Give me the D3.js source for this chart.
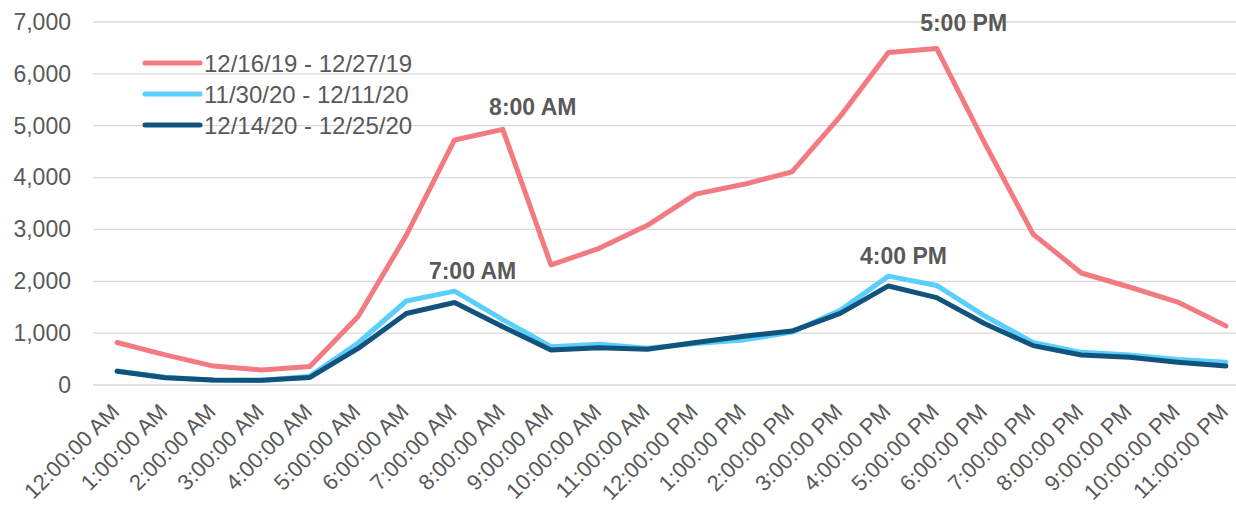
<!DOCTYPE html>
<html>
<head>
<meta charset="utf-8">
<script src="https://cdn.jsdelivr.net/npm/d3@7"></script>
<style>
    body { margin: 0; background: white; }
    text { font-family: "Liberation Sans", Arial, sans-serif; }
</style>
</head>
<body>
<script>
// hour categories
const hours = ["12:00:00 AM","1:00:00 AM","2:00:00 AM","3:00:00 AM","4:00:00 AM","5:00:00 AM",
    "6:00:00 AM","7:00:00 AM","8:00:00 AM","9:00:00 AM","10:00:00 AM","11:00:00 AM",
    "12:00:00 PM","1:00:00 PM","2:00:00 PM","3:00:00 PM","4:00:00 PM","5:00:00 PM",
    "6:00:00 PM","7:00:00 PM","8:00:00 PM","9:00:00 PM","10:00:00 PM","11:00:00 PM"];

const seriesNames = ["12/16/19 - 12/27/19", "11/30/20 - 12/11/20", "12/14/20 - 12/25/20"];
const seriesColors = ["#F47A82", "#5ACFFB", "#12537E"];

const values2019 = [820, 580, 365, 290, 355, 1320, 2890, 4725, 4930, 2315, 2635, 3080,
    3680, 3870, 4110, 5180, 6410, 6490, 4660, 2910, 2160, 1890, 1600, 1140];
const valuesNovDec20 = [270, 150, 90, 85, 170, 810, 1620, 1810, 1260, 740, 785, 710,
    800, 870, 1020, 1440, 2100, 1920, 1330, 820, 630, 580, 490, 440];
const valuesDec20 = [265, 140, 95, 90, 145, 705, 1380, 1590, 1125, 675, 720, 690,
    820, 940, 1040, 1380, 1910, 1685, 1180, 760, 580, 535, 440, 365];

const yTicks = [0, 1000, 2000, 3000, 4000, 5000, 6000, 7000];

// peak labels: [text, series index, hour index, dx, dy]
const peakLabels = [
    ["8:00 AM", 0, 8, 30, -14],
    ["7:00 AM", 1, 7, 18, -12],
    ["5:00 PM", 0, 17, 27, -17],
    ["4:00 PM", 1, 16, 15, -12]
];

const allSeries = [values2019, valuesNovDec20, valuesDec20];

const svg = d3.select("body").append("svg").attr("width", 1236).attr("height", 507);
const margin = {top: 22, right: -14, bottom: 122, left: 93};
const width = 1236, height = 507;
const innerWidth = width - margin.left - margin.right;
const innerHeight = height - margin.top - margin.bottom;
const g = svg.append("g").attr("transform", `translate(${margin.left}, ${margin.top})`);

const xScale = d3.scalePoint().domain(hours).range([0, innerWidth]).padding(0.5);
const yScale = d3.scaleLinear().domain([0, 7000]).range([innerHeight, 0]);

// grid
g.selectAll("line.grid").data(yTicks).join("line")
    .attr("class", "grid")
    .attr("x1", 0).attr("x2", innerWidth)
    .attr("y1", d => yScale(d)).attr("y2", d => yScale(d))
    .attr("stroke", "#D9D9D9").attr("stroke-width", 1.3);

// y axis
const yAxis = d3.axisLeft(yScale).tickValues(yTicks).tickFormat(d3.format(",")).tickSize(0).tickPadding(22);
const yAxisGroup = g.append("g").call(yAxis);
yAxisGroup.select(".domain").remove();
yAxisGroup.selectAll("text").attr("font-size", "23px").attr("fill", "#595959")
    .attr("font-family", "Liberation Sans, Arial, sans-serif");

// x axis labels
const xAxis = d3.axisBottom(xScale).tickSize(0);
const xAxisGroup = g.append("g").attr("transform", `translate(0, ${innerHeight})`).call(xAxis);
xAxisGroup.select(".domain").remove();
xAxisGroup.selectAll("text")
    .attr("font-size", "22px").attr("fill", "#595959")
    .attr("font-family", "Liberation Sans, Arial, sans-serif")
    .attr("text-anchor", "end")
    .attr("dy", null).attr("y", 0)
    .attr("transform", "translate(3, 28) rotate(-45)");

// lines
const line = d3.line().x((d, i) => xScale(hours[i])).y(d => yScale(d));
g.selectAll("path.series").data(allSeries).join("path")
    .attr("class", "series")
    .attr("d", d => line(d))
    .attr("fill", "none")
    .attr("stroke", (d, i) => seriesColors[i])
    .attr("stroke-width", 5)
    .attr("stroke-linejoin", "round")
    .attr("stroke-linecap", "round");

// peak labels
g.selectAll("text.peak").data(peakLabels).join("text")
    .attr("class", "peak")
    .attr("x", d => xScale(hours[d[2]]) + d[3])
    .attr("y", d => yScale(allSeries[d[1]][d[2]]) + d[4])
    .attr("text-anchor", "middle")
    .attr("font-size", "23px").attr("font-weight", "bold").attr("fill", "#595959")
    .text(d => d[0]);

// legend
const legend = svg.append("g").attr("transform", "translate(145, 63)");
const legendItems = legend.selectAll("g").data(seriesNames).join("g")
    .attr("transform", (d, i) => `translate(0, ${i * 31})`);
legendItems.append("line")
    .attr("x1", 0).attr("x2", 55).attr("y1", 0).attr("y2", 0)
    .attr("stroke", (d, i) => seriesColors[i]).attr("stroke-width", 5).attr("stroke-linecap", "round");
legendItems.append("text")
    .attr("x", 59).attr("y", 8.5)
    .attr("font-size", "24px").attr("fill", "#595959")
    .text(d => d);
</script>
</body>
</html>
